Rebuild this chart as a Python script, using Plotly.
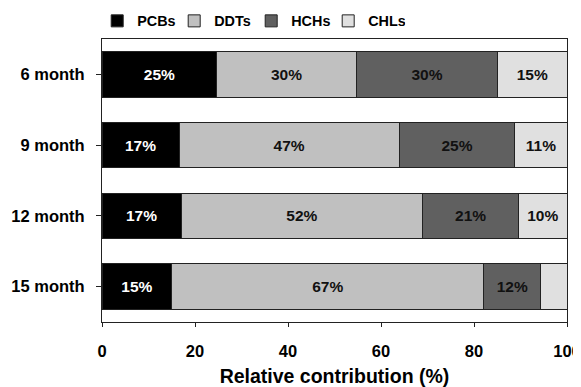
import plotly.graph_objects as go

categories = ["6 month", "9 month", "12 month", "15 month"]
series_names = ["PCBs", "DDTs", "HCHs", "CHLs"]
pcbs = [24.7, 16.6, 17.0, 15.0]
ddts = [30.0, 47.3, 52.0, 67.1]
hchs = [30.4, 24.9, 20.6, 12.3]
chls = [14.9, 11.2, 10.4, 5.6]
pcbs_labels = ["25%", "17%", "17%", "15%"]
ddts_labels = ["30%", "47%", "52%", "67%"]
hchs_labels = ["30%", "25%", "21%", "12%"]
chls_labels = ["15%", "11%", "10%", ""]
x_ticks = [0, 20, 40, 60, 80, 100]

colors = ["#000000", "#c0c0c0", "#606060", "#e0e0e0"]
text_colors = ["#ffffff", "#111111", "#111111", "#111111"]
FONT = "Liberation Sans, Arial, sans-serif"

W, H = 573, 379

fig = go.Figure()
for name, vals, labels, col, tcol in zip(
    series_names, [pcbs, ddts, hchs, chls],
    [pcbs_labels, ddts_labels, hchs_labels, chls_labels], colors, text_colors):
    fig.add_trace(go.Bar(
        name=name, y=categories, x=vals, orientation="h",
        marker=dict(color=col, line=dict(color="#222222", width=1)),
        text=labels, textposition="inside", insidetextanchor="middle",
        textangle=0, constraintext="none",
        textfont=dict(family=FONT, size=15.5, color=tcol, weight=700),
        hoverinfo="skip",
    ))

fig.update_layout(
    barmode="stack", bargap=0.355,
    width=W, height=H,
    margin=dict(l=93.7, r=14.3, t=31, b=65, autoexpand=False),
    plot_bgcolor="white", paper_bgcolor="white",
    font=dict(family=FONT, size=13, color="#000000", weight=700),
    showlegend=True,
    legend=dict(orientation="h", xref="container", yref="container",
                x=89.2 / W, xanchor="left", y=1 - 13 / H, yanchor="middle",
                font=dict(family=FONT, size=14.4, color="#000000", weight=700),
                itemwidth=30, entrywidth=32, entrywidthmode="pixels",
                tracegroupgap=0, traceorder="normal",
                bgcolor="rgba(0,0,0,0)"),
    xaxis=dict(range=[0, 100], tickvals=x_ticks, ticks="outside", ticklen=4,
               tickcolor="#222222", showline=True, linecolor="#222222", linewidth=1,
               mirror=True, showgrid=False, zeroline=False, automargin=False,
               ticklabelstandoff=10,
               tickfont=dict(family=FONT, size=16.5, weight=700),
               title=dict(text="Relative contribution (%)",
                          font=dict(family=FONT, size=19.5, weight=700), standoff=13)),
    yaxis=dict(categoryorder="array", categoryarray=categories, autorange="reversed",
               ticks="outside", ticklen=5, tickcolor="#222222", automargin=False,
               showline=True, linecolor="#222222", linewidth=1, mirror=True,
               showgrid=False, zeroline=False, ticklabelstandoff=8,
               tickfont=dict(family=FONT, size=16.5, weight=700)),
)

fig.write_html("out.html")
